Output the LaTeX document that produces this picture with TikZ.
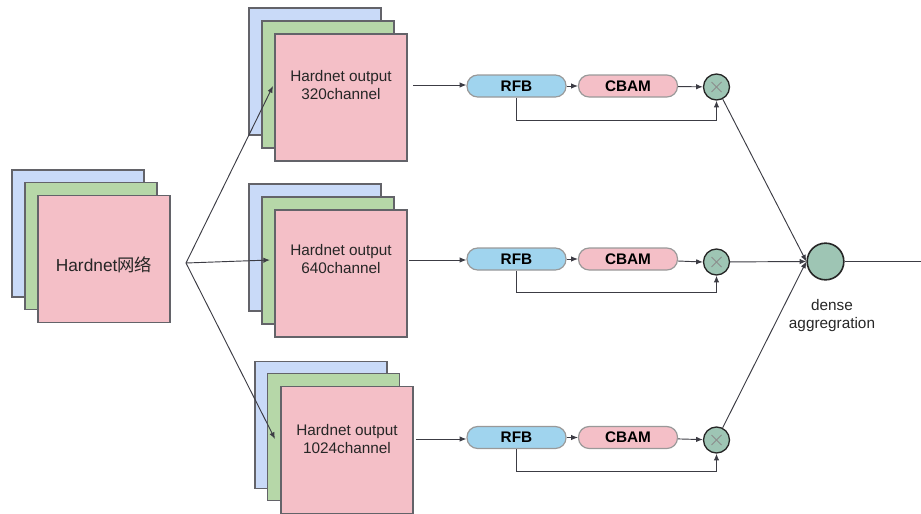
\documentclass[tikz,border=0pt]{standalone}
\usepackage{fontspec}
\setmainfont{Liberation Sans}
\newfontfamily\cjk{Noto Sans CJK SC}
\usetikzlibrary{arrows.meta}

\definecolor{layerblue}{RGB}{201,218,248}
\definecolor{layergreen}{RGB}{182,215,168}
\definecolor{layerpink}{RGB}{244,191,199}
\definecolor{rfbblue}{RGB}{160,212,238}
\definecolor{mulgreen}{RGB}{158,197,180}
\definecolor{edgegray}{RGB}{60,60,68}

\tikzset{every picture/.style={line width=0.75pt}}
\tikzset{
	layer/.style={draw=edgegray!80, line width=0.9pt, minimum width=99pt, minimum height=95.25pt, inner sep=0pt},
	block/.style={draw=black!40, line width=0.9pt, rounded corners=8pt, minimum width=74.25pt, minimum height=16.5pt, inner sep=0pt, font=\bfseries\fontsize{11.5}{13}\selectfont},
	mul/.style={circle, draw=black!85, line width=1pt, fill=mulgreen, minimum size=19.5pt, inner sep=0pt},
	txt/.style={align=center, font=\fontsize{11.5}{13.5}\selectfont, text=black!85},
	link/.style={draw=edgegray, line width=0.7pt, -{Latex[length=5pt,width=4pt]}},
	plain/.style={draw=edgegray, line width=0.7pt}
}

\begin{document}
\begin{tikzpicture}[x=0.75pt,y=0.75pt,yscale=-1,xscale=1]
	\useasboundingbox (0,0) rectangle (921,514);
	
	% input stack
	\node[layer, fill=layerblue] (inb) at (78,233.5) {};
	\node[layer, fill=layergreen] (ing) at (91,246) {};
	\node[layer, fill=layerpink] (inp) at (104,259) {};
	\node[txt, font=\fontsize{13}{15}\selectfont] (intxt) at (104,265) {Hardnet{\cjk 网络}};
	\coordinate (split) at (186,263);
	
	% output stack 320
	\node[layer, fill=layerblue] (ab) at (315,71.5) {};
	\node[layer, fill=layergreen] (ag) at (328,84.5) {};
	\node[layer, fill=layerpink] (ap) at (341,97.5) {};
	\node[txt] (atxt) at (341,85) {Hardnet output\\320channel};
	% output stack 640
	\node[layer, fill=layerblue] (bb) at (315,247.5) {};
	\node[layer, fill=layergreen] (bg) at (328,260.5) {};
	\node[layer, fill=layerpink] (bp) at (341,273.5) {};
	\node[txt] (btxt) at (341,259) {Hardnet output\\640channel};
	% output stack 1024
	\node[layer, fill=layerblue] (cb) at (321,425) {};
	\node[layer, fill=layergreen] (cg) at (333.5,437) {};
	\node[layer, fill=layerpink] (cp) at (347,450) {};
	\node[txt] (ctxt) at (347,439) {Hardnet output\\1024channel};
	
	\coordinate (ain) at (273,86);
	\coordinate (bin) at (270,260);
	\coordinate (cin) at (275,439);
	\draw[link] (split) -- (ain);
	\draw[link] (split) -- (bin);
	\draw[link] (split) -- (cin);
	
	% attention rows
	\node[block, fill=rfbblue] (ra) at (516.5,86) {RFB};
	\node[block, fill=layerpink] (ka) at (628,86) {CBAM};
	\node[mul] (ma) at (716.5,87) {};
	\node[block, fill=rfbblue] (rb) at (516.5,259) {RFB};
	\node[block, fill=layerpink] (kb) at (628,259) {CBAM};
	\node[mul] (mb) at (716.5,262) {};
	\node[block, fill=rfbblue] (rc) at (516.5,437.5) {RFB};
	\node[block, fill=layerpink] (kc) at (628,437.5) {CBAM};
	\node[mul] (mc) at (716.5,440) {};
	
	\foreach \m in {ma,mb,mc}{
		\draw[black!45, line width=0.6pt] ([shift={(-5,-5)}]\m.center) -- ([shift={(5,5)}]\m.center);
		\draw[black!45, line width=0.6pt] ([shift={(-5,5)}]\m.center) -- ([shift={(5,-5)}]\m.center);
	}
	
	\coordinate (aout) at (413,85);
	\coordinate (bout) at (409,260);
	\coordinate (cout) at (416,439);
	\draw[link] (aout) -- (ra.west |- aout);
	\draw[link] (bout) -- (rb.west |- bout);
	\draw[link] (cout) -- (rc.west |- cout);
	
	\draw[link] (ra) -- (ka);
	\draw[link] (ka) -- (ma);
	\draw[link] (rb) -- (kb);
	\draw[link] (kb) -- (mb.west);
	\draw[link] (rc) -- (kc);
	\draw[link] (kc) -- (mc);
	
	% skip paths
	\draw[link] (ra.south) -- ++(0,23) -| (ma.south);
	\draw[link] (rb.south) -- ++(0,22) -| (mb.south);
	\draw[link] (rc.south) -- ++(0,22) -| (mc.south);
	
	% dense aggregation
	\node[circle, draw=black!85, line width=1.2pt, fill=mulgreen, minimum size=27.5pt, inner sep=0pt] (agg) at (825.5,261.5) {};
	\node[txt] (aggtxt) at (832,316) {dense\\aggregration};
	\draw[link] (ma) -- (agg.west);
	\draw[link] (mb) -- (agg.west);
	\draw[link] (mc) -- (agg.west);
	\coordinate (final) at (921,261.5);
	\draw[plain] (agg.east) -- (final);
	
\end{tikzpicture}
\end{document}
